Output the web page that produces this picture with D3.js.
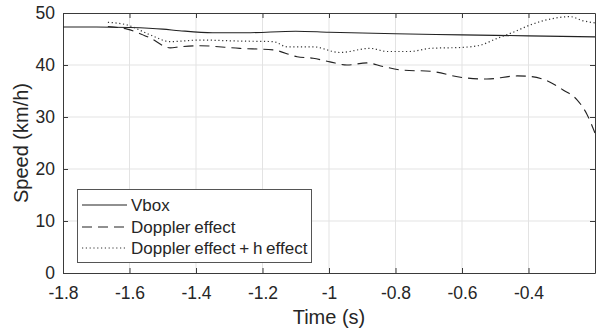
<!DOCTYPE html>
<html>
<head>
<meta charset="utf-8">
<script src="https://cdn.jsdelivr.net/npm/d3@7"></script>
<style>
  html, body { margin: 0; padding: 0; background: #fff; }
  svg { display: block; font-family: "Liberation Sans", Arial, sans-serif; }
</style>
</head>
<body>
<svg id="chart" width="597" height="328"></svg>
<script>
// Axis ticks
const xTicks = [-1.8, -1.6, -1.4, -1.2, -1, -0.8, -0.6, -0.4];
const yTicks = [0, 10, 20, 30, 40, 50];

// Vbox reference speed
const vboxTime  = [-1.8, -1.7, -1.6, -1.5, -1.45, -1.35, -1.25, -1.1, -1.0, -0.8, -0.6, -0.4, -0.2];
const vboxSpeed = [47.3, 47.3, 47.2, 46.9, 46.6, 46.2, 46.2, 46.5, 46.3, 46.0, 45.8, 45.6, 45.4];

// Speed estimated from the Doppler effect
const dopTime  = [-1.665, -1.607, -1.538, -1.478, -1.448, -1.388, -1.268, -1.168, -1.096, -1.048, -0.997, -0.946, -0.886, -0.837, -0.777, -0.696, -0.600, -0.525, -0.434, -0.395, -0.335, -0.296, -0.254, -0.224, -0.200];
const dopSpeed = [47.4, 46.9, 45.2, 43.3, 43.5, 43.7, 43.2, 42.9, 41.6, 41.3, 40.6, 40.0, 40.4, 39.7, 39.0, 38.8, 37.6, 37.3, 37.9, 37.8, 36.7, 35.2, 33.3, 30.5, 26.9];

// Speed estimated from the Doppler effect plus the h effect
const dhTime  = [-1.665, -1.607, -1.538, -1.478, -1.388, -1.268, -1.168, -1.126, -1.048, -0.967, -0.877, -0.825, -0.756, -0.696, -0.597, -0.546, -0.495, -0.446, -0.395, -0.344, -0.275, -0.236, -0.200];
const dhSpeed = [48.2, 47.7, 45.8, 44.5, 44.8, 44.6, 44.5, 43.5, 43.5, 42.4, 43.2, 42.6, 42.6, 43.2, 43.4, 43.8, 45.1, 46.3, 47.7, 48.7, 49.3, 48.5, 48.1];

const seriesNames = ["Vbox", "Doppler effect", "Doppler effect + h effect"];

const svg = d3.select("#chart");
const plotL = 63, plotR = 595, plotT = 13, plotB = 273;

const x = d3.scaleLinear().domain([-1.8, -0.2]).range([plotL, plotR]);
const y = d3.scaleLinear().domain([0, 50]).range([plotB, plotT]);

const axisColor = "#3a3a3a";
const gridColor = "#e3e3e3";
const textColor = "#262626";

// Grid
svg.append("g").selectAll("line").data(xTicks.slice(1)).join("line")
  .attr("x1", d => x(d)).attr("x2", d => x(d))
  .attr("y1", plotT).attr("y2", plotB)
  .attr("stroke", gridColor).attr("stroke-width", 1);
svg.append("g").selectAll("line").data(yTicks.slice(1, -1)).join("line")
  .attr("y1", d => y(d)).attr("y2", d => y(d))
  .attr("x1", plotL).attr("x2", plotR)
  .attr("stroke", gridColor).attr("stroke-width", 1);

// Axes with inward ticks on all four sides
const fmt = d => String(d);
const tickLen = 5;
const bottomAxis = svg.append("g").attr("transform", `translate(0,${plotB})`)
  .call(d3.axisBottom(x).tickValues(xTicks).tickFormat(fmt).tickSizeInner(-tickLen).tickSizeOuter(0).tickPadding(14));
const topAxis = svg.append("g").attr("transform", `translate(0,${plotT})`)
  .call(d3.axisTop(x).tickValues(xTicks).tickFormat("").tickSizeInner(-tickLen).tickSizeOuter(0));
const leftAxis = svg.append("g").attr("transform", `translate(${plotL},0)`)
  .call(d3.axisLeft(y).tickValues(yTicks).tickFormat(fmt).tickSizeInner(-tickLen).tickSizeOuter(0).tickPadding(8));
const rightAxis = svg.append("g").attr("transform", `translate(${plotR},0)`)
  .call(d3.axisRight(y).tickValues(yTicks).tickFormat("").tickSizeInner(-tickLen).tickSizeOuter(0));

[bottomAxis, topAxis, leftAxis, rightAxis].forEach(g => {
  g.select(".domain").attr("stroke", axisColor).attr("stroke-width", 1);
  g.selectAll(".tick line").attr("stroke", axisColor);
  g.selectAll("text").attr("fill", textColor).attr("font-size", 17.5)
    .attr("font-family", "'Liberation Sans', Arial, sans-serif");
});
bottomAxis.selectAll("text").attr("dy", "0.71em");

// Axis titles
svg.append("text")
  .attr("x", (plotL + plotR) / 2).attr("y", 324)
  .attr("text-anchor", "middle").attr("font-size", 20).attr("fill", textColor)
  .text("Time (s)");
svg.append("text")
  .attr("transform", `translate(28,${(plotT + plotB) / 2}) rotate(-90)`)
  .attr("text-anchor", "middle").attr("font-size", 20).attr("fill", textColor)
  .text("Speed (km/h)");

// Series
const styles = [
  { dash: null, color: "#222", width: 1.1 },
  { dash: "10,6", color: "#222", width: 1.1 },
  { dash: "1.2,2.6", color: "#333", width: 1.2 }
];
const series = [
  d3.zip(vboxTime, vboxSpeed),
  d3.zip(dopTime, dopSpeed),
  d3.zip(dhTime, dhSpeed)
];
const line = d3.line().x(d => x(d[0])).y(d => y(d[1])).curve(d3.curveMonotoneX);

svg.append("defs").append("clipPath").attr("id", "plotclip")
  .append("rect").attr("x", plotL).attr("y", plotT).attr("width", plotR - plotL).attr("height", plotB - plotT);

svg.append("g").attr("clip-path", "url(#plotclip)")
  .selectAll("path").data(series).join("path")
  .attr("d", line)
  .attr("fill", "none")
  .attr("stroke", (d, i) => styles[i].color)
  .attr("stroke-width", (d, i) => styles[i].width)
  .attr("stroke-dasharray", (d, i) => styles[i].dash);

// Legend
const lg = svg.append("g");
lg.append("rect").attr("x", 77.5).attr("y", 189.5).attr("width", 234).attr("height", 73)
  .attr("fill", "#fff").attr("stroke", "#555").attr("stroke-width", 1);
const rowY = [205, 227, 248];
seriesNames.forEach((name, i) => {
  lg.append("line").attr("x1", 82).attr("x2", 127).attr("y1", rowY[i]).attr("y2", rowY[i])
    .attr("stroke", styles[i].color).attr("stroke-width", i === 2 ? 1 : styles[i].width)
    .attr("stroke-dasharray", styles[i].dash);
  lg.append("text").attr("x", 131).attr("y", rowY[i]).attr("dy", "0.36em")
    .attr("font-size", 17).attr("word-spacing", -1).attr("fill", textColor).text(name);
});
</script>
</body>
</html>
